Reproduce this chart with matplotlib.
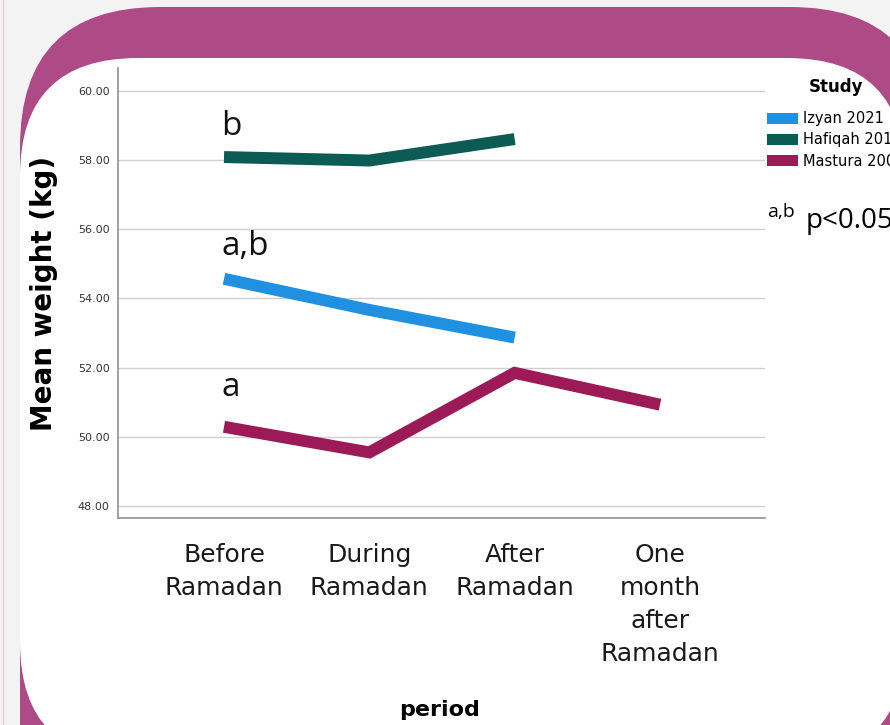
import matplotlib.pyplot as plt
from matplotlib.patches import FancyBboxPatch, Patch

# data
periods = ['Before\nRamadan', 'During\nRamadan', 'After\nRamadan', 'One\nmonth\nafter\nRamadan']
studies = ['Izyan 2021', 'Hafiqah 2018', 'Mastura 2009']
izyan = [54.57, 53.67, 52.87]
hafiqah = [58.09, 57.99, 58.61]
mastura = [50.29, 49.55, 51.85, 50.93]
colors = ['#1f91e0', '#0c5b55', '#9c1a55']

# significance letters next to the first point of each series
sig_labels = ['b', 'a,b', 'a']
sig_y = [58.73, 55.26, 51.18]

W, H = 890, 725
fig = plt.figure(figsize=(W / 100, H / 100), dpi=100)
fig.patch.set_facecolor('#f3f3f3')

# slide background: magenta frame with a white rounded panel
bg = fig.add_axes([0, 0, 1, 1], zorder=0)
bg.set_xlim(0, W)
bg.set_ylim(H, 0)
bg.axis('off')
bg.add_patch(FancyBboxPatch((20, 7), 910, 1000, boxstyle='round,pad=0,rounding_size=140',
                            facecolor='#ae4a86', edgecolor='none'))
bg.add_patch(FancyBboxPatch((20, 58), 885, 702, boxstyle='round,pad=0,rounding_size=118',
                            facecolor='white', edgecolor='none'))
bg.plot([3, 3], [0, H], color='#e8cfe0', lw=1)

# main chart, placed in pixel terms
left, right, top, bottom = 118, 765, 68, 518
ax = fig.add_axes([left / W, 1 - bottom / H, (right - left) / W, (bottom - top) / H], zorder=2)
ax.set_facecolor('none')

series = [izyan, hafiqah, mastura]
for vals, c, name in zip(series, colors, studies):
    ax.plot(range(len(vals)), vals, color=c, lw=8.6, solid_capstyle='butt',
            solid_joinstyle='miter', label=name, zorder=3)

for lab, y in zip(sig_labels, sig_y):
    ax.text(-0.02, y, lab, fontsize=24, family='Open Sans', va='baseline', ha='left', color='#111')

px_per_kg = (506 - 91) / 12
ax.set_ylim(48 - (bottom - 506) / px_per_kg, 60 + (91 - top) / px_per_kg)
step = (660 - 224) / 3
ax.set_xlim(-(224 - left) / step, 3 + (right - 660) / step)

yt = [48, 50, 52, 54, 56, 58, 60]
ax.set_yticks(yt)
ax.set_yticklabels(['%.2f' % v for v in yt])
ax.set_xticks(range(len(periods)))
ax.set_xticklabels(periods, fontsize=18, color='#1a1a1a', linespacing=1.47)
ax.tick_params(axis='y', length=0, pad=6, labelsize=8, labelcolor='#333333')
ax.tick_params(axis='x', length=0, pad=18)
ax.yaxis.grid(True, color='#cfcfcf', lw=1)
ax.set_axisbelow(True)
for s in ['top', 'right']:
    ax.spines[s].set_visible(False)
for s in ['left', 'bottom']:
    ax.spines[s].set_color('#999999')
    ax.spines[s].set_linewidth(1.3)

ax.set_ylabel('Mean weight (kg)', fontsize=20, fontweight='bold', labelpad=14)
fig.text(440 / W, 1 - 710 / H, 'period', fontsize=16, fontweight='bold', ha='center', va='center')

handles = [Patch(facecolor=c, edgecolor='none') for c in colors]
leg = ax.legend(handles, studies, title='Study', loc='upper left',
                bbox_to_anchor=(767 / W, 1 - 78 / H), bbox_transform=fig.transFigure,
                frameon=False, fontsize=10.5, handlelength=2.1, handleheight=0.75,
                handletextpad=0.4, labelspacing=0.42, borderaxespad=0, borderpad=0,
                title_fontproperties={'weight': 'bold', 'size': 12})
leg._legend_box.sep = 11

fig.text(767 / W, 1 - 217 / H, 'a,b', fontsize=14, family='Open Sans', va='baseline')
fig.text(806 / W, 1 - 228 / H, 'p<0.05', fontsize=20, family='Open Sans', va='baseline')

plt.savefig('out.png', dpi=100, facecolor=fig.get_facecolor())
